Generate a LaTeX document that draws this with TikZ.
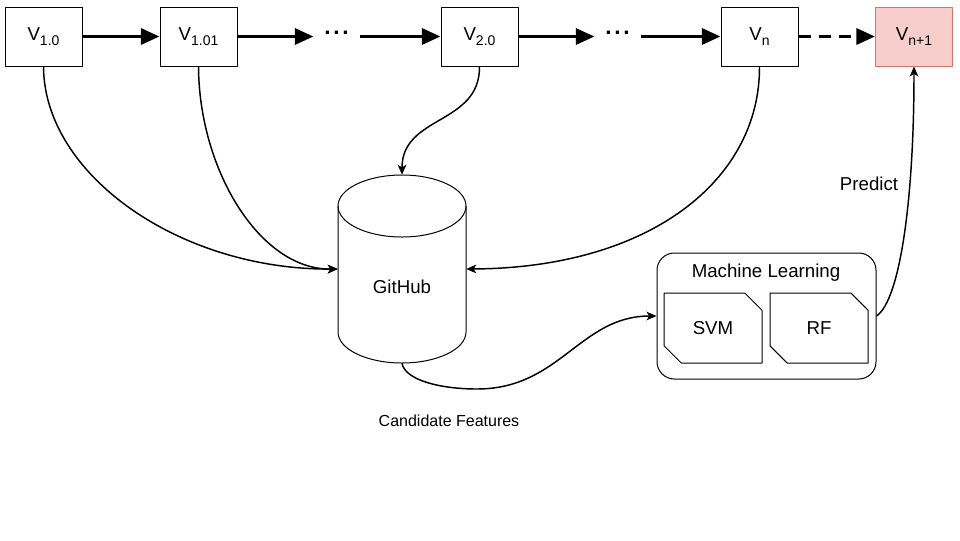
\documentclass[tikz,border=0pt]{standalone}
\usepackage{fontspec}
\setmainfont{Liberation Sans}
\usetikzlibrary{arrows.meta,shapes.misc}
\definecolor{predfill}{HTML}{F8CECC}
\definecolor{predline}{HTML}{EA6B66}
\newcommand{\ver}[1]{V\raisebox{-4pt}{\fontsize{10.5}{11}\selectfont #1}}
\newcommand{\verdots}{{\fontsize{17}{17}\selectfont\bfseries .\hspace{2pt}.\hspace{2pt}.}}
\tikzset{
verbox/.style={draw,line width=0.75pt,minimum width=57.75pt,minimum height=44.25pt,inner sep=0pt},
algbox/.style={draw,line width=0.75pt,chamfered rectangle,chamfered rectangle corners={north east,south west},chamfered rectangle xsep=8pt,chamfered rectangle ysep=8pt,minimum width=73.5pt,minimum height=52.5pt,inner sep=0pt},
flow/.style={line width=2.5pt,-{Triangle[length=14pt,width=12pt]}},
link/.style={line width=1.1pt,-{Stealth[length=7.5pt,width=6.5pt,inset=2pt]}}
}
\begin{document}
\begin{tikzpicture}[x=0.75pt,y=0.75pt,font=\fontsize{14}{17}\selectfont,line join=round]
\useasboundingbox (0,0) rectangle (960,-540);
\node[verbox] (v10) at (43.5,-36.5) {\ver{1.0}};
\node[verbox] (v101) at (198.5,-36.5) {\ver{1.01}};
\node[verbox] (v20) at (479.5,-36.5) {\ver{2.0}};
\node[verbox] (vn) at (759.5,-36.5) {\ver{n}};
\node[verbox,fill=predfill,draw=predline] (vn1) at (914,-36.5) {\ver{n+1}};
\node[inner xsep=8pt] (d1) at (336.5,-33) {\verdots};
\node[inner xsep=8pt] (d2) at (617.5,-33) {\verdots};
\draw[flow] (v10) -- (v101);
\foreach \a/\b in {v101/d1,v20/d2}\draw[flow] (\a) -- (\a -| \b.west);
\foreach \a/\b in {d1/v20,d2/vn}\draw[flow] (\a.east |- \b) -- (\b);
\draw[flow,dash pattern=on 9pt off 6pt] (vn) -- (vn1);
\node[minimum width=96pt,minimum height=141pt,inner sep=0pt] (github) at (402,-269) {};
\draw[line width=0.75pt] (402,-206) ellipse [x radius=64,y radius=31];
\draw[line width=0.75pt] (338,-206) -- (338,-332) arc[start angle=180,end angle=360,x radius=64,y radius=31] -- (466,-206);
\node (ghtext) at (402,-287) {GitHub};
\node[draw,line width=0.75pt,rounded corners=13pt,minimum width=164.25pt,minimum height=94.5pt] (ml) at (766.5,-316) {};
\node (mltitle) at (766,-273) {Machine Learning};
\node[algbox] (svm) at (713,-328) {SVM};
\node[algbox] (rf) at (819,-328) {RF};
\draw[link] (v10.south) .. controls (44,-175) and (180,-270) .. (github.west);
\draw[link] (v101.south) .. controls (199,-170) and (260,-270) .. (github.west);
\draw[link] (v20.south) .. controls (480,-125) and (402,-115) .. (github.north);
\draw[link] (vn.south) .. controls (760,-180) and (650,-268) .. (github.east);
\draw[link] (github.south) .. controls (405,-380) and (440,-389) .. (477,-389) .. controls (560,-389) and (580,-316) .. (ml.west);
\draw[link] (ml.east) .. controls (900,-300) and (914,-200) .. (vn1.south);
\node (pred) at (869,-184) {Predict};
\node[font=\fontsize{12}{14}\selectfont] (cand) at (449,-421) {Candidate Features};
\end{tikzpicture}
\end{document}
